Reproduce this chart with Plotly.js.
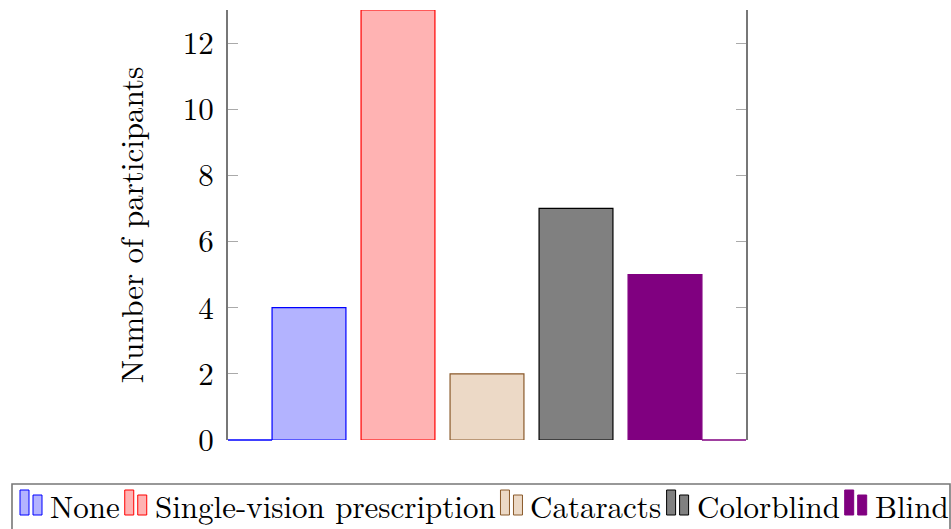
<!DOCTYPE html>
<html>
<head>
<meta charset="utf-8">
<script src="https://cdn.plot.ly/plotly-3.0.1.min.js"></script>
<style>html,body{margin:0;padding:0;background:#fff;}#chart{width:951px;height:529px;}</style>
</head>
<body>
<div id="chart"></div>
<script>
// Vision conditions of participants
const categories = ["None", "Single-vision prescription", "Cataracts", "Colorblind", "Blind"];
const counts = [4, 13, 2, 7, 5];
const fillColors = ["#b3b3ff", "#ffb3b3", "#ecd9c6", "#808080", "#800080"];
const edgeColors = ["#0000ff", "#ff0000", "#8a5a2b", "#000000", "#800080"];

const W = 951, H = 529;
const M = { l: 228, r: 205, t: 10, b: 89 };
const plotW = W - M.l - M.r, plotH = H - M.t - M.b;
const FAMILY = "'Latin Modern Roman', 'Liberation Serif', 'DejaVu Serif', serif";
const FS = 31;

const barWidth = 0.83;
const xRange = [-0.91, categories.length - 1 + 0.91];

const traces = categories.map((name, i) => ({
  type: "bar",
  name: name,
  x: [i],
  y: [counts[i]],
  width: barWidth,
  marker: { color: fillColors[i], line: { color: edgeColors[i], width: 1.2 } },
  hoverinfo: "name+y",
  showlegend: false
}));

// data x -> paper x, so the baseline pieces are not clipped at the plot edge
const xp = v => (v - xRange[0]) / (xRange[1] - xRange[0]);

// baseline segments outside the bars, coloured like the outermost series
const last = categories.length - 1;
const shapes = [
  { type: "line", xref: "paper", yref: "paper", layer: "above", x0: 0, x1: xp(0 - barWidth / 2), y0: 0, y1: 0,
    line: { color: edgeColors[0], width: 1.6 } },
  { type: "line", xref: "paper", yref: "paper", layer: "above", x0: xp(last + barWidth / 2), x1: 1, y0: 0, y1: 0,
    line: { color: edgeColors[last], width: 1.6 } }
];
const annotations = [];

// pixel -> paper helpers for the legend drawn below the axes
const px = v => (v - M.l) / plotW;
const py = v => (H - M.b - v) / plotH;

// legend: frame + a pair of small bars and a label per series
const ctx = document.createElement("canvas").getContext("2d");
ctx.font = FS + "px " + FAMILY;
shapes.push({ type: "rect", xref: "paper", yref: "paper",
  x0: px(12), x1: px(950), y0: py(484), y1: py(545),
  line: { color: "#777", width: 1.6 }, fillcolor: "rgba(0,0,0,0)" });
let cursor = 20;
categories.forEach((name, i) => {
  const iconStyle = { type: "rect", xref: "paper", yref: "paper",
    fillcolor: fillColors[i], line: { color: edgeColors[i], width: 1 } };
  shapes.push(Object.assign({}, iconStyle, { x0: px(cursor), x1: px(cursor + 9), y0: py(515), y1: py(490) }));
  shapes.push(Object.assign({}, iconStyle, { x0: px(cursor + 13), x1: px(cursor + 22), y0: py(515), y1: py(495) }));
  const tx = cursor + 29;
  annotations.push({ xref: "paper", yref: "paper", x: px(tx), y: py(505),
    xanchor: "left", yanchor: "middle", showarrow: false, text: name,
    font: { family: FAMILY, size: FS, color: "#000" }, borderpad: 0 });
  cursor = tx + ctx.measureText(name).width + 6;
});

const font = { family: FAMILY, color: "#000" };

const layout = {
  width: W, height: H,
  margin: Object.assign({ autoexpand: false }, M),
  paper_bgcolor: "#fff", plot_bgcolor: "#fff",
  font: Object.assign({ size: FS }, font),
  showlegend: false,
  barmode: "overlay",
  xaxis: {
    range: xRange, showticklabels: false, showgrid: false, zeroline: false,
    showline: false, ticks: "", fixedrange: true
  },
  yaxis: {
    range: [0, 13], tickvals: [0, 2, 4, 6, 8, 10, 12],
    showgrid: false, zeroline: false, showline: true, mirror: "ticks",
    linecolor: "#777", linewidth: 2, ticks: "inside", ticklen: 10, tickwidth: 1,
    tickcolor: "#aaa", ticklabelstandoff: 6,
    tickfont: Object.assign({ size: FS }, font),
    title: { text: "Number of participants", font: Object.assign({ size: FS }, font), standoff: 30 }
  },
  shapes: shapes,
  annotations: annotations
};

Plotly.newPlot("chart", traces, layout, { displayModeBar: false, staticPlot: true });
</script>
</body>
</html>
